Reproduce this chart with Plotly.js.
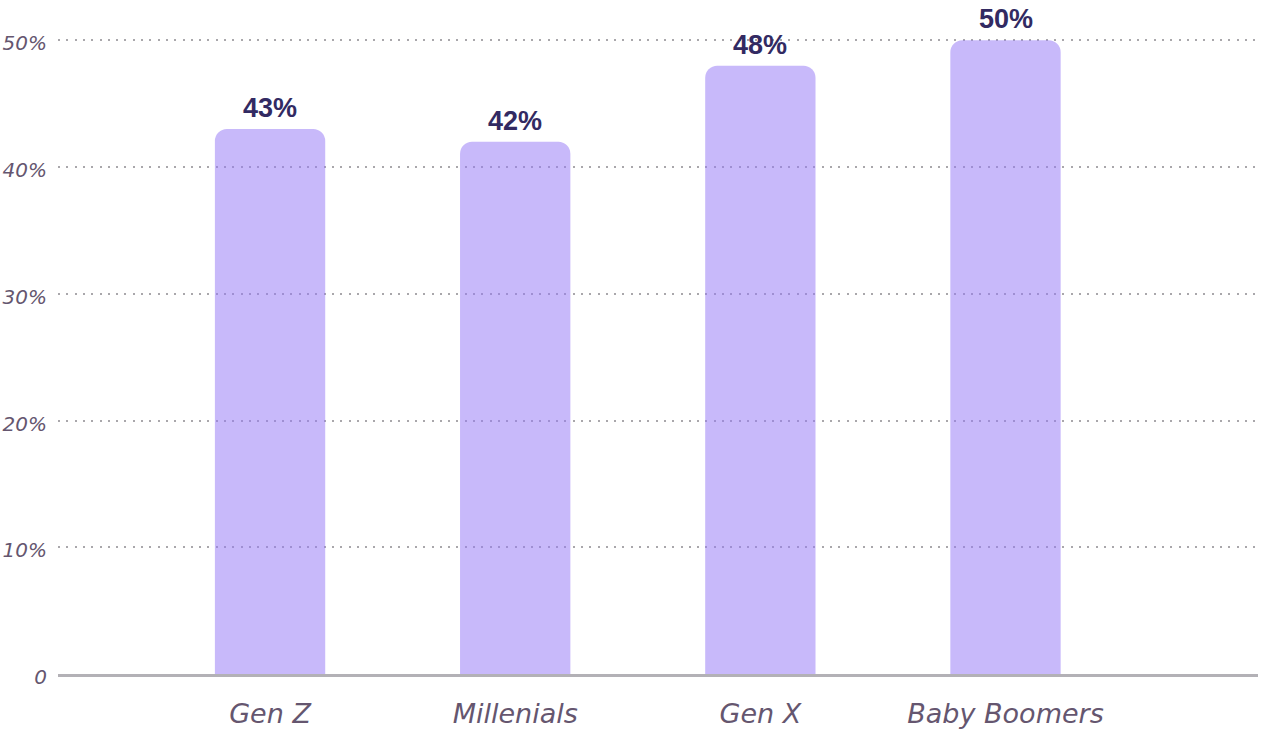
<!DOCTYPE html>
<html>
<head>
<meta charset="utf-8">
<script src="https://cdn.plot.ly/plotly-3.0.1.min.js"></script>
<style>html,body{margin:0;padding:0;background:#fff;}#chart{width:1261px;height:734px;}</style>
</head>
<body>
<div id="chart"></div>
<script>
const categories = ["Gen Z", "Millenials", "Gen X", "Baby Boomers"];
const values = [43, 42, 48, 50];
const valueLabels = ["43%", "42%", "48%", "50%"];
const yTickVals = [0, 10, 20, 30, 40, 50];
const yTickText = ["0", "10%", "20%", "30%", "40%", "50%"];

const trace = {
  type: "bar",
  x: categories,
  y: values,
  marker: {color: "rgba(150,120,245,0.52)", cornerradius: 12, line: {width: 0}},
  width: 0.45,
  hoverinfo: "skip"
};

const annotations = categories.map((c, i) => ({
  x: c, y: values[i], xref: "x", yref: "y",
  text: "<b>" + valueLabels[i] + "</b>",
  showarrow: false, yanchor: "bottom", xanchor: "center", yshift: 5,
  borderpad: 0,
  font: {family: "Liberation Sans, Arial, sans-serif", size: 27, color: "#322a62"}
}));

const layout = {
  width: 1261, height: 734,
  margin: {l: 58, r: 3, t: 15, b: 60},
  paper_bgcolor: "#fff", plot_bgcolor: "#fff",
  showlegend: false,
  annotations: annotations,
  xaxis: {
    range: [-0.865, 4.03],
    showgrid: false,
    showline: true, linecolor: "#b3b1b6", linewidth: 3,
    ticks: "", ticklabelstandoff: 14,
    tickfont: {family: "DejaVu Sans, sans-serif", size: 27, color: "#65566f", style: "italic"},
    fixedrange: true
  },
  yaxis: {
    range: [0, 52],
    tickvals: yTickVals, ticktext: yTickText,
    showgrid: true, gridcolor: "#a9a7ab", gridwidth: 2, griddash: "2px,6.3px",
    zeroline: false, showline: false,
    ticks: "", ticklabelstandoff: 10, ticklabelshift: 3,
    tickfont: {family: "DejaVu Sans, sans-serif", size: 20, color: "#65566f", style: "italic"},
    fixedrange: true
  },
  bargap: 0.55
};

Plotly.newPlot("chart", [trace], layout, {displayModeBar: false, staticPlot: true});
</script>
</body>
</html>
